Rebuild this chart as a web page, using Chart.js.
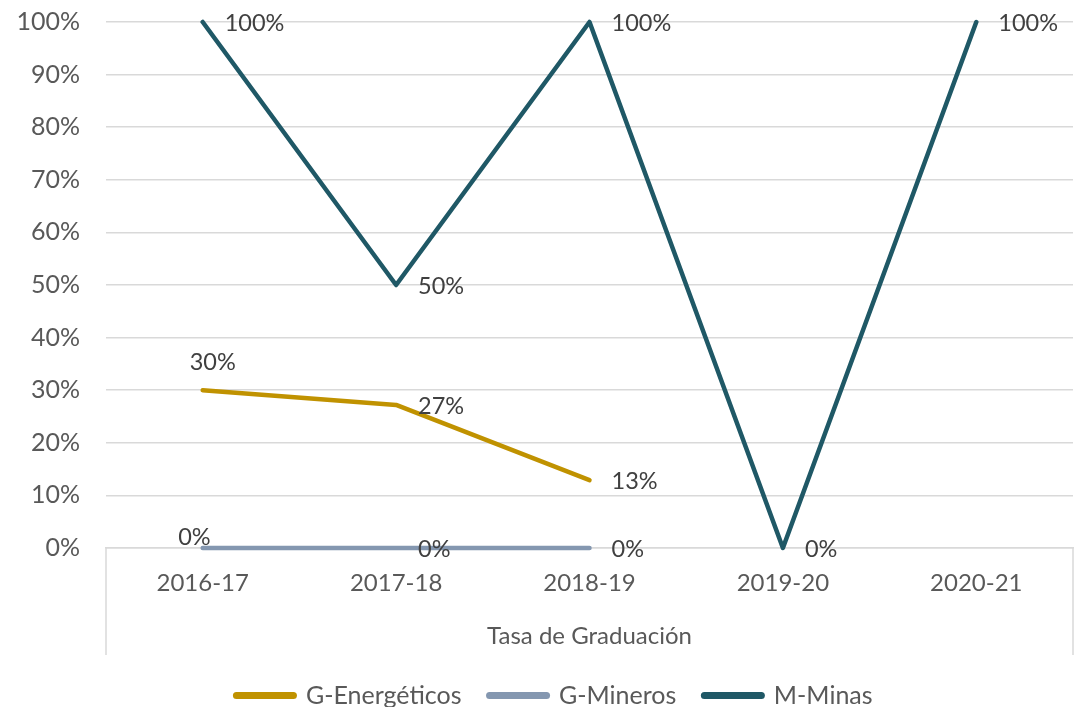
<!DOCTYPE html>
<html>
<head>
<meta charset="utf-8">
<script src="https://cdn.jsdelivr.net/npm/chart.js@4/dist/chart.umd.min.js"></script>
<style>
    html, body { margin: 0; padding: 0; background: #ffffff; }
    #wrap { width: 1076px; height: 707px; }
</style>
</head>
<body>
<div id="wrap"><canvas id="graduacion" width="1076" height="707"></canvas></div>
<script>
// Categories (school years) and the three series, in percent
const categories = ['2016-17', '2017-18', '2018-19', '2019-20', '2020-21'];
const gEnergeticos = [30, 27.2, 12.9, null, null];
const gMineros = [0, 0, 0, null, null];
const mMinas = [100, 50, 100, 0, 100];
const yTickValues = [0, 10, 20, 30, 40, 50, 60, 70, 80, 90, 100];

const FONT = 'Lato, "Open Sans", sans-serif';

// Draws the value label next to each point (like Excel data labels)
const pointLabels = {
    id: 'pointLabels',
    afterDatasetsDraw(chart) {
        const ctx = chart.ctx;
        ctx.save();
        ctx.font = '23.5px ' + FONT;
        ctx.fillStyle = '#404040';
        ctx.textBaseline = 'middle';
        chart.data.datasets.forEach((ds, i) => {
            const meta = chart.getDatasetMeta(i);
            meta.data.forEach((pt, j) => {
                const v = ds.data[j];
                if (v === null || v === undefined) return;
                const txt = Math.round(v) + '%';
                const where = (ds.labelPlace && ds.labelPlace[j]) || 'right';
                if (where === 'above') {
                    ctx.textAlign = 'center';
                    ctx.fillText(txt, pt.x + 10, pt.y - 28);
                } else if (where === 'leftabove') {
                    ctx.textAlign = 'right';
                    ctx.fillText(txt, pt.x + 8, pt.y - 11);
                } else {
                    ctx.textAlign = 'left';
                    ctx.fillText(txt, pt.x + 22, pt.y + 1);
                }
            });
        });
        ctx.restore();
    }
};

// Outer category box of the multi-level axis (vertical lines at both ends)
const outerAxis = {
    id: 'outerAxis',
    afterLayout(chart) {
        // nudge the legend a bit to the right, like the original
        chart.legend.left += 18;
        chart.legend.right += 18;
    },
    afterDraw(chart) {
        const ctx = chart.ctx;
        const area = chart.chartArea;
        const xs = chart.scales.x;
        ctx.save();
        ctx.strokeStyle = '#D9D9D9';
        ctx.lineWidth = 1.5;
        ctx.beginPath();
        ctx.moveTo(area.left, area.bottom);
        ctx.lineTo(area.left, xs.bottom);
        ctx.moveTo(area.right, area.bottom);
        ctx.lineTo(area.right, xs.bottom);
        ctx.stroke();
        ctx.restore();
    }
};

const lineStyle = {
    borderWidth: 4.5,
    pointRadius: 0,
    tension: 0,
    borderCapStyle: 'round',
    borderJoinStyle: 'round',
    spanGaps: false,
    clip: 3
};

const config = {
    type: 'line',
    data: {
        labels: categories,
        datasets: [
            Object.assign({
                label: 'G-Energéticos',
                data: gEnergeticos,
                borderColor: '#C09200',
                backgroundColor: '#C09200',
                labelPlace: ['above', 'right', 'right']
            }, lineStyle),
            Object.assign({
                label: 'G-Mineros',
                data: gMineros,
                borderColor: '#8497B0',
                backgroundColor: '#8497B0',
                labelPlace: ['leftabove', 'right', 'right']
            }, lineStyle),
            Object.assign({
                label: 'M-Minas',
                data: mMinas,
                borderColor: '#1F5866',
                backgroundColor: '#1F5866'
            }, lineStyle)
        ]
    },
    options: {
        responsive: false,
        animation: false,
        layout: {
            padding: { top: 22, right: 3, left: 0, bottom: -11 }
        },
        scales: {
            x: {
                offset: true,
                grid: { display: false },
                border: { color: '#D9D9D9', width: 1.5 },
                ticks: {
                    color: '#595959',
                    font: { family: FONT, size: 24 },
                    padding: 13,
                    maxRotation: 0
                },
                title: {
                    display: true,
                    text: 'Tasa de Graduación',
                    color: '#595959',
                    font: { family: FONT, size: 24 },
                    padding: { top: 0, bottom: 4 }
                },
                afterFit(scale) { scale.height = 107; }
            },
            y: {
                min: 0,
                max: 100,
                afterBuildTicks(scale) {
                    scale.ticks = yTickValues.map(v => ({ value: v }));
                },
                grid: { color: '#D9D9D9', lineWidth: 1.5, drawTicks: false },
                border: { display: false },
                ticks: {
                    color: '#595959',
                    font: { family: FONT, size: 25 },
                    padding: 26,
                    callback: v => v + '%'
                },
                afterFit(scale) {
                    scale.width = 106;
                    scale.paddingTop = 0;
                    scale.paddingBottom = 0;
                }
            }
        },
        plugins: {
            legend: {
                position: 'bottom',
                labels: {
                    usePointStyle: true,
                    pointStyle: 'line',
                    pointStyleWidth: 57,
                    padding: 28,
                    color: '#595959',
                    font: { family: FONT, size: 25 },
                    generateLabels(chart) {
                        return Chart.defaults.plugins.legend.labels.generateLabels(chart).map(item => {
                            item.lineWidth = 7;
                            item.lineCap = 'round';
                            return item;
                        });
                    }
                }
            },
            tooltip: { enabled: false }
        }
    },
    plugins: [pointLabels, outerAxis]
};

new Chart(document.getElementById('graduacion'), config);
</script>
</body>
</html>
